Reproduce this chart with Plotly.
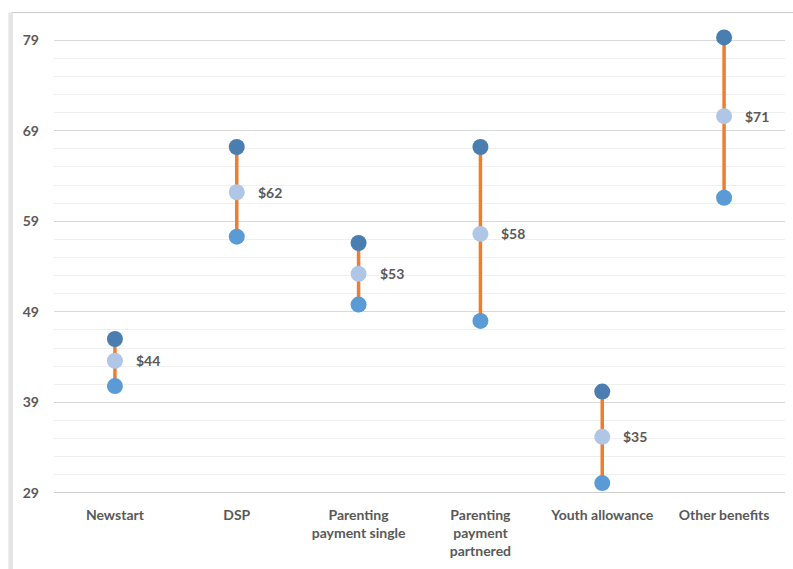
import plotly.graph_objects as go

# Weekly payment range by benefit type
categories = ["Newstart", "DSP", "Parenting payment single",
              "Parenting payment partnered", "Youth allowance", "Other benefits"]
tick_text = ["Newstart", "DSP", "Parenting<br>payment single",
             "Parenting<br>payment<br>partnered", "Youth allowance", "Other benefits"]
high = [46.0, 67.2, 56.6, 67.2, 40.2, 79.3]
mid = [43.6, 62.2, 53.2, 57.6, 35.2, 70.6]
low = [40.8, 57.3, 49.8, 48.0, 30.1, 61.6]
y_ticks = [29, 39, 49, 59, 69, 79]

TEXT = "#595959"
FONT = "Lato"

fig = go.Figure()

# orange range bars, one segment per category
seg_x, seg_y = [], []
for c, h, l in zip(categories, high, low):
    seg_x += [c, c, None]
    seg_y += [l, h, None]
fig.add_trace(go.Scatter(x=seg_x, y=seg_y, mode="lines",
                         line=dict(color="#ed7d31", width=3.5),
                         hoverinfo="skip", showlegend=False))

fig.add_trace(go.Scatter(x=categories, y=high, mode="markers", name="High",
                         marker=dict(size=16, color="#4a7eb0"), showlegend=False))
fig.add_trace(go.Scatter(x=categories, y=low, mode="markers", name="Low",
                         marker=dict(size=16, color="#5b9bd5"), showlegend=False))
fig.add_trace(go.Scatter(x=categories, y=mid, mode="markers", name="Average",
                         marker=dict(size=16, color="#afc6e6"), showlegend=False))

for c, m in zip(categories, mid):
    fig.add_annotation(x=c, y=m, text=f"<b>${m:.0f}</b>", showarrow=False,
                       xanchor="left", xshift=19,
                       font=dict(family=FONT, size=14, color=TEXT))

# chart frame with a soft shadow on the left/top edges
fig.add_shape(type="rect", xref="paper", yref="paper",
              x0=-0.0575, x1=1.2, y0=-0.5, y1=1.02,
              line=dict(color="#c8c8c8", width=1), layer="below")
fig.add_shape(type="line", xref="paper", yref="paper",
              x0=-0.0605, x1=-0.0605, y0=-0.5, y1=1.02,
              line=dict(color="#e6e6e6", width=3), layer="below")

fig.update_layout(
    width=793, height=569,
    margin=dict(l=54, r=8, t=22, b=76),
    paper_bgcolor="white", plot_bgcolor="white",
    font=dict(family=FONT, size=14, color=TEXT),
    xaxis=dict(type="category", categoryorder="array", categoryarray=categories,
               range=[-0.5, 5.5],
               tickvals=categories, ticktext=[f"<b>{t}</b>" for t in tick_text],
               showgrid=False, showline=False, ticks="", fixedrange=True,
               ticklabelstandoff=12,
               tickfont=dict(family=FONT, size=14, color=TEXT)),
    yaxis=dict(range=[29, 81], tickvals=y_ticks,
               ticktext=[f"<b>{v}</b>" for v in y_ticks],
               showgrid=True, gridcolor="#d9d9d9", gridwidth=1,
               minor=dict(dtick=2, tick0=29, showgrid=True, gridcolor="#efefef", gridwidth=1),
               zeroline=False, showline=False, ticks="", ticklen=0,
               ticklabelstandoff=14,
               tickfont=dict(family=FONT, size=14, color=TEXT)),
)
fig.add_shape(type="line", xref="paper", yref="y", x0=0, x1=1, y0=29, y1=29,
              line=dict(color="#bfbfbf", width=1.5), layer="below")

fig.write_html("out.html")
